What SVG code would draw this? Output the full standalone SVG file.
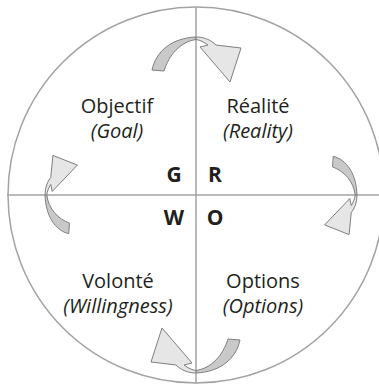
<svg xmlns="http://www.w3.org/2000/svg" width="379" height="387" viewBox="0 0 379 387">
<style>
.ln{stroke:#a3a3a3;stroke-width:1.5;fill:none}
.dk{fill:#c9c9c9;stroke:#7f7f7f;stroke-width:1;vector-effect:non-scaling-stroke}
.lt{fill:#e6e6e6;stroke:#7f7f7f;stroke-width:1;vector-effect:non-scaling-stroke}
.t{font-family:"Open Sans",sans-serif;font-size:20px;fill:#231f20;text-anchor:middle}
.i{font-style:italic}
.b{font-family:"Open Sans",sans-serif;font-size:21px;font-weight:bold;fill:#231f20;text-anchor:middle}
</style>
<defs>
<g id="arr">
<path class="dk" d="M-44,33 C-40,14 -24,1 0,0 L0,2.5 C-16,5 -27,18 -32,34 Z"/>
<path class="lt" d="M0,0 C8,0 15,3 20,8 L45,11 L34,45 L4,10 L12,8 C8,5 4,3 0,2.5 Z"/>
</g>
</defs>
<g id="frame">
<circle class="ln" cx="196" cy="195" r="188"/>
<line class="ln" x1="196" y1="7" x2="196" y2="383"/>
<line class="ln" x1="7" y1="195" x2="379" y2="195"/>
</g>
<g id="connectors">
<use href="#arr" transform="translate(196,37)"/>
<use href="#arr" transform="translate(357,195) rotate(90) scale(0.88,0.72)"/>
<use href="#arr" transform="translate(196,373) rotate(180)"/>
<use href="#arr" transform="translate(45,195) rotate(-90) scale(0.88,0.72)"/>
</g>
<g id="goal"><text class="t" x="117" y="113">Objectif</text><text class="t i" x="117" y="138">(Goal)</text></g>
<g id="reality"><text class="t" x="258" y="113">Réalité</text><text class="t i" x="258" y="138">(Reality)</text></g>
<g id="will"><text class="t" x="118" y="288">Volonté</text><text class="t i" x="118" y="313">(Willingness)</text></g>
<g id="options"><text class="t" x="263" y="288">Options</text><text class="t i" x="263" y="313">(Options)</text></g>
<g id="grow">
<text class="b" x="174" y="182">G</text>
<text class="b" x="215" y="182">R</text>
<text class="b" x="174" y="225">W</text>
<text class="b" x="215" y="225">O</text>
</g>
</svg>
